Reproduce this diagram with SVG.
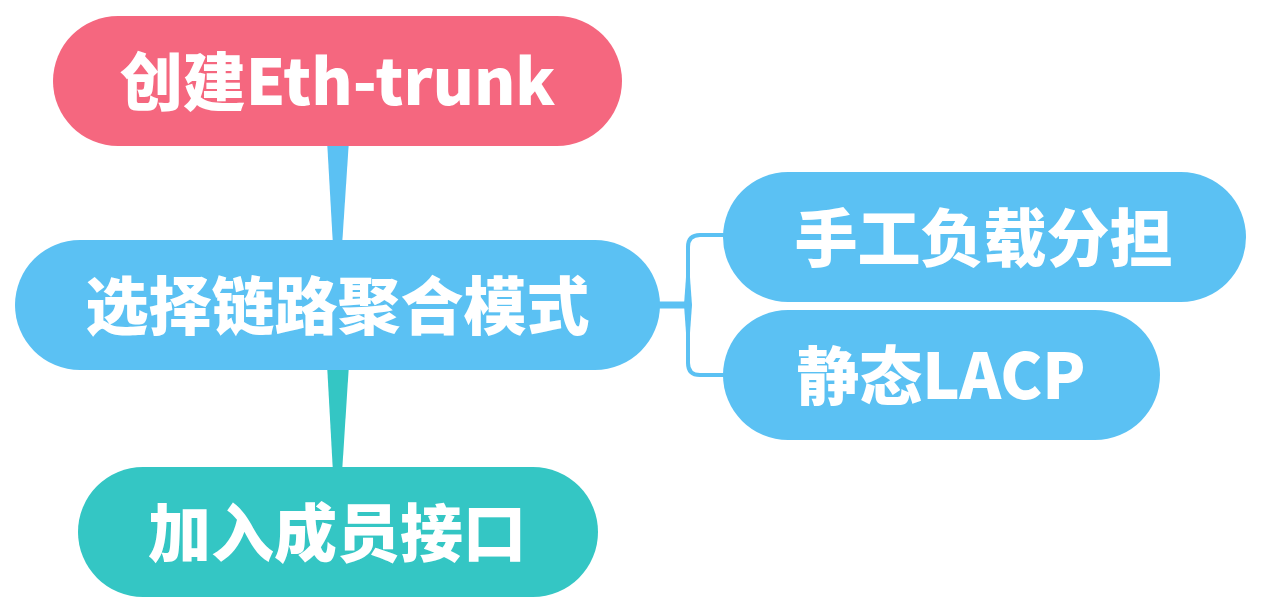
<svg xmlns="http://www.w3.org/2000/svg" width="1266" height="614" viewBox="0 0 1266 614">
<style>
.t{font-family:"Noto Sans CJK SC","Microsoft YaHei",sans-serif;font-weight:900;font-size:63px;fill:#fff;text-anchor:middle}
.pink{fill:#F5677F}
.blue{fill:#5BC1F3}
.teal{fill:#34C6C4}
</style>
<rect width="1266" height="614" fill="#fff"/>
<g id="connectors">
<polygon class="blue" points="327,140 349,140 342,246 333,246"/>
<polygon class="teal" points="327,364 349,364 342,473 333,473"/>
<line x1="650" y1="305" x2="690" y2="305" stroke="#5BC1F3" stroke-width="7"/>
<path d="M728,235 L700,235 Q688,235 688,247 L688,363 Q688,375 700,375 L728,375" fill="none" stroke="#5BC1F3" stroke-width="4"/>
<polygon class="blue" points="688,250 692,305 688,360 684,305"/>
</g>
<g id="node-create">
<rect class="pink" x="53" y="16" width="569" height="130" rx="65"/>
<text class="t" x="337.5" y="105">创建Eth-trunk</text>
</g>
<g id="node-mode">
<rect class="blue" x="15" y="240" width="645" height="130" rx="65"/>
<text class="t" x="337.5" y="329">选择链路聚合模式</text>
</g>
<g id="node-member">
<rect class="teal" x="78" y="467" width="520" height="130" rx="65"/>
<text class="t" x="337" y="556">加入成员接口</text>
</g>
<g id="node-manual">
<rect class="blue" x="723" y="172" width="523" height="130" rx="65"/>
<text class="t" x="983.5" y="261">手工负载分担</text>
</g>
<g id="node-lacp">
<rect class="blue" x="723" y="310" width="437" height="130" rx="65"/>
<text class="t" x="941" y="399">静态LACP</text>
</g>
</svg>
